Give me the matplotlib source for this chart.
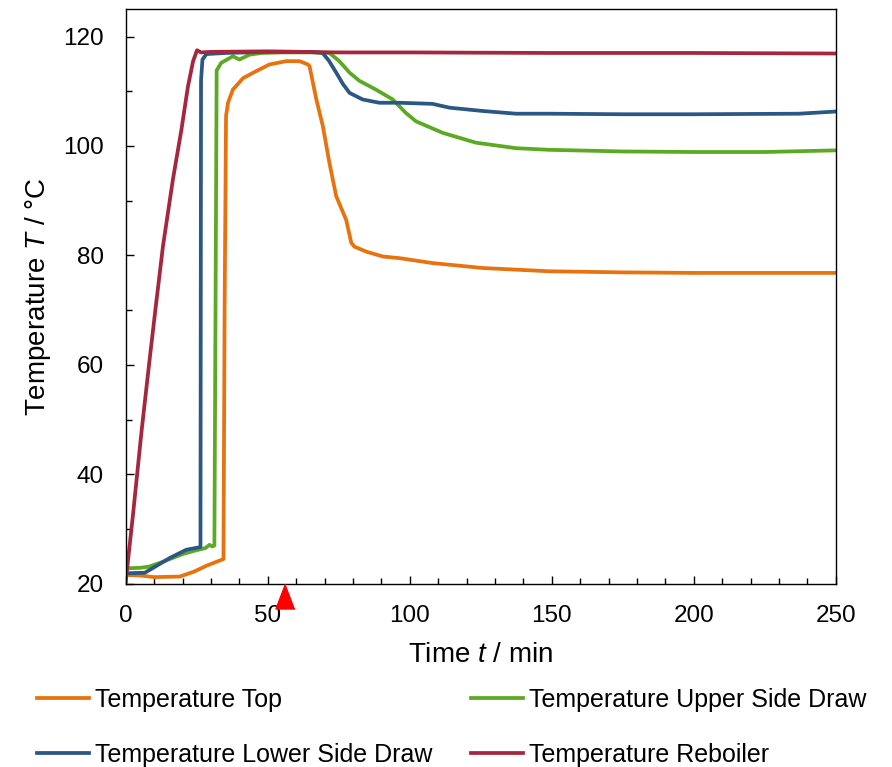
import matplotlib
matplotlib.use("Agg")
import matplotlib.pyplot as plt
from matplotlib.ticker import MultipleLocator
from matplotlib.transforms import ScaledTranslation

plt.rcParams["font.family"] = ["Liberation Sans", "DejaVu Sans"]
plt.rcParams["mathtext.fontset"] = "custom"
plt.rcParams["mathtext.rm"] = "Liberation Sans"
plt.rcParams["mathtext.it"] = "Liberation Sans:italic"

# Temperature Top
t_top = [0, 5, 10, 19, 24, 28.5, 34.4, 34.8, 35.3, 36, 37.7, 41.3, 46, 50.6,
         56.5, 61.2, 64.1, 64.7, 67.1, 69.4, 71.7, 74.1, 77.6, 79.4, 80.5,
         84.6, 90.5, 96.3, 108, 125.6, 149, 175, 200, 225, 250]
T_top = [21.6, 21.5, 21.2, 21.3, 22.2, 23.3, 24.5, 70, 105.5, 107.9, 110.3,
         112.4, 113.7, 114.9, 115.5, 115.5, 114.9, 114.6, 108.5, 103.6, 96.9,
         90.8, 86.5, 82.3, 81.6, 80.7, 79.8, 79.5, 78.6, 77.7, 77.1, 76.9,
         76.8, 76.8, 76.8]

# Temperature Upper Side Draw
t_upper = [0, 5, 8, 12, 16, 20, 24, 28, 29.5, 30.5, 31.2, 31.6, 32, 33.6, 35,
           37.7, 40, 43.6, 48, 55, 65, 71.7, 75, 78.8, 82.3, 88.1, 94, 98.7,
           102.2, 111.6, 123.3, 137.4, 149, 175, 200, 225, 250]
T_upper = [22.8, 22.9, 23.1, 23.8, 24.6, 25.4, 26.0, 26.5, 27.1, 26.8, 27.0,
           70, 113.8, 115.2, 115.6, 116.4, 115.8, 116.7, 117.0, 117.1, 117.1,
           117.0, 115.6, 113.4, 111.9, 110.3, 108.5, 106.0, 104.5, 102.4,
           100.6, 99.6, 99.3, 99.0, 98.9, 98.9, 99.2]

# Temperature Lower Side Draw
t_lower = [0, 6.7, 10, 15.5, 21.3, 25.4, 26.3, 26.5, 27, 28.4, 35, 50, 65,
           69.3, 71.5, 74.1, 76.5, 78.8, 83.4, 89.3, 96.3, 108, 114, 125.6,
           137.4, 149, 175, 200, 237, 250]
T_lower = [21.9, 22.0, 23.0, 24.7, 26.2, 26.6, 26.7, 112, 115.8, 116.8, 117.0,
           117.2, 117.2, 117.0, 115.6, 113.4, 111.3, 109.7, 108.5, 107.9,
           107.9, 107.7, 107.0, 106.4, 105.9, 105.9, 105.8, 105.8, 105.9, 106.3]

# Temperature Reboiler
t_reb = [0, 2.6, 5.5, 8.4, 10.5, 13.1, 16.6, 19.6, 21.9, 23.7, 25.1, 26.5,
         30, 50, 75, 100, 150, 200, 250]
T_reb = [20.5, 32.9, 47.6, 61.0, 70.4, 81.7, 93.9, 103.0, 110.9, 115.5,
         117.5, 117.1, 117.2, 117.3, 117.1, 117.1, 117.0, 117.0, 116.9]

marker_time = 56

fig = plt.figure(figsize=(8.92, 7.67), dpi=100)
ax = fig.add_axes([0.141, 0.239, 0.796, 0.749])

lw = 2.7
l_top, = ax.plot(t_top, T_top, color="#E8730E", lw=lw, label="Temperature Top")
l_up, = ax.plot(t_upper, T_upper, color="#5BAA22", lw=lw, label="Temperature Upper Side Draw")
l_low, = ax.plot(t_lower, T_lower, color="#2A5783", lw=lw, label="Temperature Lower Side Draw")
l_reb, = ax.plot(t_reb, T_reb, color="#A6263E", lw=lw, label="Temperature Reboiler")

ax.set_xlim(0, 250)
ax.set_ylim(20, 125)

# red marker just below the time axis
off = ScaledTranslation(0, -12.5 / 100, fig.dpi_scale_trans)
ax.plot([marker_time], [20], marker=[(0, 1), (-0.76, -1), (0.76, -1)],
        markersize=18, color="#FF0000", transform=ax.transData + off,
        clip_on=False, zorder=5)

ax.xaxis.set_major_locator(MultipleLocator(50))
ax.xaxis.set_minor_locator(MultipleLocator(10))
ax.yaxis.set_minor_locator(MultipleLocator(10))
ax.set_yticks([20, 40, 60, 80, 100, 120])

ax.tick_params(which="both", direction="in", width=1.0, labelsize=17.5)
ax.tick_params(which="major", length=5.5)
ax.tick_params(which="minor", length=4.3)
ax.tick_params(axis="x", pad=15)
ax.tick_params(axis="y", pad=16)
for s in ax.spines.values():
    s.set_linewidth(1.0)

ax.set_xlabel("Time $t$ / min", fontsize=20)
ax.set_ylabel("Temperature $T$ / °C", fontsize=20)
ax.xaxis.set_label_coords(0.5, -0.102)
ax.yaxis.set_label_coords(-0.103, 0.5)

fig.legend(handles=[l_top, l_low, l_up, l_reb], ncol=2, loc="upper left",
           bbox_to_anchor=(37 / 892, 1 - 688 / 767), frameon=False,
           fontsize=18, handlelength=2.08, handletextpad=0.24,
           columnspacing=1.56, labelspacing=1.24, borderpad=0, borderaxespad=0)

fig.savefig("out.png", dpi=100)
